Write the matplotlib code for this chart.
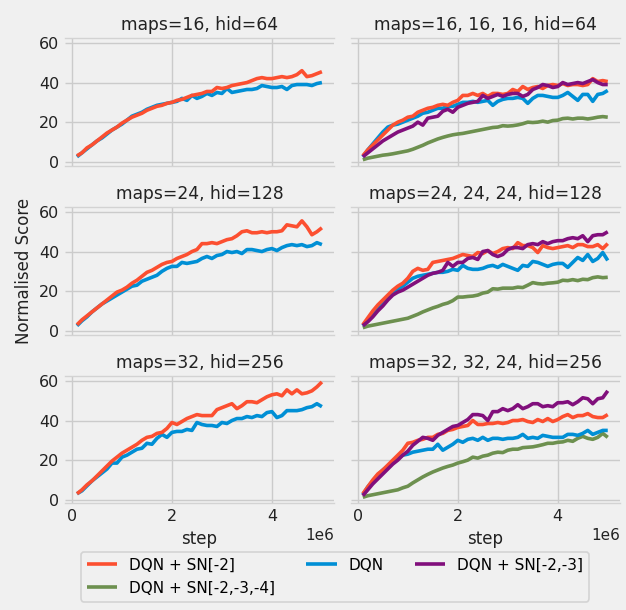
import numpy as np
import matplotlib
matplotlib.use("Agg")
import matplotlib.pyplot as plt

plt.style.use("fivethirtyeight")
plt.rcParams["font.family"] = ["DejaVu Sans"]

steps = np.arange(1, 51) * 100000  # sampled training steps 0.1e6 .. 5.0e6

titles = [
    "maps=16, hid=64", "maps=16, 16, 16, hid=64",
    "maps=24, hid=128", "maps=24, 24, 24, hid=128",
    "maps=32, hid=256", "maps=32, 32, 24, hid=256",
]
labels = ["DQN + SN[-2]", "DQN + SN[-2,-3,-4]", "DQN", "DQN + SN[-2,-3]"]
colors = {"DQN + SN[-2]": "#fc4f30", "DQN + SN[-2,-3,-4]": "#6d904f",
          "DQN": "#008fd5", "DQN + SN[-2,-3]": "#810f7c"}

# ---- left column (single conv block) ----
p1_sn2 = [3, 4.5, 7, 8.5, 10.5, 12.5, 14.5, 16, 17.5, 19.5, 21, 22.5, 23.5, 24.5, 26, 27, 28, 28.5, 29.5, 30,
          31, 31.5, 32.5, 33.5, 34, 34.5, 35.5, 35.5, 37.5, 37, 37.5, 38.5, 39, 39.5, 40, 41, 42, 42.5, 42, 42,
          42.5, 43, 42.5, 43, 44, 46, 43, 43.5, 44.5, 45.5]
p1_dqn = [2.5, 4.5, 6.5, 8.5, 10.5, 12, 14, 16, 17.5, 19, 21, 23, 24, 25, 26.5, 27.5, 28.5, 29, 29.5, 30,
          30.5, 32, 31, 33.5, 32, 33, 34.5, 33.5, 35, 34.5, 37, 35, 35.5, 36, 36.5, 36.5, 37, 38.5, 38, 37.5,
          37.5, 38, 36.5, 38.5, 39, 39, 39, 38.5, 39.5, 40]

p2_sn2 = [3, 5.5, 7.5, 9.5, 11.5, 13.5, 15.5, 17.5, 19.5, 20.5, 22, 24, 25.5, 27.5, 29.5, 30.5, 32, 33.5, 34.5, 35,
          36.5, 37.5, 38.5, 40, 41, 44, 44, 44.5, 44, 45, 46, 46.5, 48, 50, 50.5, 49.5, 49.5, 50, 49.5, 50,
          50, 50.5, 53.5, 53, 52.5, 55.5, 52.5, 48.5, 50, 52]
p2_dqn = [2.5, 5, 7, 9.5, 11.5, 13.5, 15, 16.5, 18, 19.5, 21, 22.5, 23, 25, 26, 27, 28, 30, 31.5, 32.5,
          32.5, 34.5, 34, 34.5, 35, 36.5, 37.5, 36.5, 38, 38.5, 40, 39.5, 40, 39, 41, 41, 40.5, 40, 41, 41.5,
          40.5, 42, 43, 43.5, 43, 43.5, 42.5, 43, 44.5, 43.5]

p3_sn2 = [3, 5, 7.5, 9.5, 12, 14.5, 17, 19.5, 21.5, 23.5, 25, 26.5, 28, 30, 31.5, 32, 33.5, 34, 36, 39,
          38, 39.5, 41, 42, 43, 42.5, 42.5, 42.5, 45.5, 46.5, 47.5, 48.5, 46, 47.5, 49.5, 49.5, 49, 50.5, 52, 53,
          53.5, 52.5, 55.5, 53.5, 55.5, 53.5, 54, 55, 57, 59.5]
p3_dqn = [3, 4.5, 7, 9.5, 11.5, 13.5, 15.5, 18.5, 18.5, 21.5, 22.5, 24, 25.5, 26, 28.5, 28, 31, 33, 31.5, 34,
          34.5, 34.5, 35.5, 35, 39, 38, 37.5, 37.5, 37, 39, 38.5, 40, 41, 41, 42, 41.5, 42.5, 42, 44, 44.5,
          41.5, 42.5, 45, 45, 45, 45.5, 46.5, 47, 48.5, 47]

# ---- right column (three conv blocks) ----
p4_sn2 = [3, 6, 8.5, 11, 13.5, 16, 18.5, 20, 21, 22.5, 23, 25, 26, 27, 27.5, 28.5, 29, 28.5, 30, 31,
          33.5, 33.5, 34.5, 33.5, 34.5, 33, 34.5, 34.5, 34, 34.5, 36.5, 35.5, 38, 36.5, 37.5, 38, 37, 38.5, 39, 38.5,
          39.5, 38.5, 39, 39, 38.5, 39, 42, 40.5, 41, 40.5]
p4_dqn = [2.5, 6, 9, 12, 15, 17.5, 18.5, 19, 20, 21, 22, 23, 24.5, 25, 26, 27, 27, 28, 28, 29,
          30, 30, 30.5, 30, 30.5, 31, 28.5, 30.5, 31.5, 32, 32, 32.5, 32, 29.5, 32, 33.5, 33.5, 33, 32.5, 32.5,
          33.5, 35, 33, 31, 34, 34, 30.5, 34, 34.5, 36]
p4_sn23 = [2.5, 4.5, 6.5, 8.5, 10.5, 12, 13.5, 15, 16, 17, 18, 20, 18.5, 22, 22.5, 23, 25.5, 26.5, 25, 27.5,
           28.5, 29.5, 30, 30.5, 33.5, 32, 33, 34, 33, 34, 34.5, 34.5, 33, 34, 36.5, 37.5, 39, 38.5, 37.5, 38,
           40, 39, 39.5, 40, 39.5, 40.5, 41.5, 40, 39, 39]
p4_sn234 = [1, 1.8, 2.3, 2.8, 3.3, 3.6, 4, 4.5, 5, 5.5, 6.3, 7.3, 8.3, 9.5, 10.5, 11.5, 12.3, 13, 13.6, 14,
            14.3, 14.8, 15.3, 15.8, 16.3, 16.8, 17.3, 17.5, 18.2, 18, 18.2, 18.6, 19.2, 20, 19.8, 20, 20.5, 20, 20.8, 21,
            21.8, 22, 21.6, 22, 22, 21.6, 22, 22.5, 22.8, 22.5]

p5_sn2 = [3, 6.5, 10, 13, 15.5, 18, 20.5, 22.5, 24, 26.5, 30, 31.5, 30.5, 31, 34.5, 35, 35.5, 36, 36.5, 37.5,
          38.5, 38, 37.5, 39.5, 39, 40.5, 39, 40, 41.5, 42, 41.5, 44.5, 43, 43, 42, 39.5, 43, 42, 41.5, 42,
          42.5, 43, 42, 43.5, 43.5, 42.5, 42.5, 43.5, 41.5, 44]
p5_dqn = [2.5, 5.5, 8.5, 11.5, 14, 17, 19.5, 21, 22.5, 24.5, 26.5, 27.5, 28, 28.5, 29, 29.5, 29.5, 30, 31, 30.5,
          33, 31.5, 31, 31, 31.5, 32.5, 33, 32, 33.5, 32.5, 31.5, 30.5, 33, 32.5, 35, 34.5, 33.5, 32.5, 33.5, 34,
          34, 32, 34.5, 37, 35.5, 38.5, 35, 36.5, 39.5, 35.5]
p5_sn23 = [2.5, 4.5, 7, 10, 12.5, 15.5, 18, 19.5, 20.5, 22, 23.5, 25, 26.5, 28, 29, 29.5, 30.5, 34.5, 32.5, 34.5,
           34.5, 36.5, 37, 36, 40, 40.5, 38.5, 37.5, 38.5, 41, 42, 42, 41.5, 43.5, 44, 43.5, 45, 44, 45, 45.5,
           45.5, 46.5, 47, 46.5, 48, 45, 48, 48.5, 48.5, 50]
p5_sn234 = [1.5, 2.3, 2.8, 3.3, 3.8, 4.3, 4.8, 5.3, 5.8, 6.3, 7.3, 8.3, 9.5, 10.5, 11.5, 12.3, 13.3, 14, 15.2, 17,
            17, 17.3, 17.5, 18, 19, 19.5, 21.2, 21, 21.5, 21.5, 21.5, 22, 21.8, 23, 24.3, 23.8, 23.6, 24, 24.2, 24.5,
            25.5, 25.3, 25.8, 25.3, 26, 25.8, 26.8, 27.2, 26.8, 27]

p6_sn2 = [3, 6.5, 10, 13, 15, 17.5, 20, 22.5, 25, 28.5, 29, 30, 30.5, 31.5, 31.5, 33, 33.5, 35, 35.5, 36.5,
          37, 37.5, 40, 38, 38, 38.5, 38.5, 39, 38.5, 39, 40, 40, 40.5, 39.5, 39, 40.5, 39.5, 41, 39.5, 40.5,
          42, 43, 41.5, 42.5, 42.5, 43.5, 42, 41.5, 41.5, 43]
p6_dqn = [2.5, 6.5, 9.5, 12.5, 15, 17, 19, 21, 22.5, 23, 24, 24.5, 25, 25.5, 25.5, 28, 25, 26.5, 28, 30,
          29, 30.5, 31, 30, 31.5, 30, 31, 31, 30.5, 31, 31, 31.5, 33, 31, 31.5, 31, 32.5, 32, 31.5, 31.5,
          31.5, 33, 33, 32.5, 33.5, 35, 33, 34, 35, 35]
p6_sn23 = [2, 5, 8, 10.5, 13, 15.5, 18, 20, 22.5, 24.5, 27.5, 29.5, 31.5, 31, 30, 32.5, 34, 35.5, 37, 37.5,
           39, 40.5, 43, 43, 42.5, 40, 44.5, 44.5, 46, 45, 46, 48, 46, 47, 48.5, 48.5, 47, 47.5, 47, 49,
           49, 49.5, 48, 49.5, 51.5, 51, 48.5, 51, 51.5, 55]
p6_sn234 = [1.2, 2, 2.5, 3, 3.5, 4, 4.5, 5, 6, 6.8, 8.5, 10, 11.5, 12.8, 14, 15, 16, 16.8, 17.5, 18.5,
            19.2, 20, 21.5, 21, 22, 22.5, 23.5, 24, 23.8, 25, 25.5, 25.5, 26.3, 26.5, 26.7, 27.2, 27.8, 28.5, 28.5, 29,
            29.2, 30, 29.5, 31, 32, 31, 30.5, 31.5, 33.5, 31.5]

panels = [
    {"DQN + SN[-2]": p1_sn2, "DQN": p1_dqn},
    {"DQN + SN[-2]": p4_sn2, "DQN": p4_dqn, "DQN + SN[-2,-3]": p4_sn23, "DQN + SN[-2,-3,-4]": p4_sn234},
    {"DQN + SN[-2]": p2_sn2, "DQN": p2_dqn},
    {"DQN + SN[-2]": p5_sn2, "DQN": p5_dqn, "DQN + SN[-2,-3]": p5_sn23, "DQN + SN[-2,-3,-4]": p5_sn234},
    {"DQN + SN[-2]": p3_sn2, "DQN": p3_dqn},
    {"DQN + SN[-2]": p6_sn2, "DQN": p6_dqn, "DQN + SN[-2,-3]": p6_sn23, "DQN + SN[-2,-3,-4]": p6_sn234},
]
draw_order = ["DQN + SN[-2,-3,-4]", "DQN", "DQN + SN[-2]", "DQN + SN[-2,-3]"]

fig, axes = plt.subplots(3, 2, figsize=(6.26, 6.10), dpi=100, sharex=True, sharey=True,
                         facecolor="#f0f0f0")
fig.subplots_adjust(left=0.1034, right=0.9904, top=0.9374, bottom=0.1746,
                    wspace=0.061, hspace=0.327)

handles = {}
for ax, title, data in zip(axes.flat, titles, panels):
    ax.set_facecolor("#f0f0f0")
    for name in draw_order:
        if name in data:
            ln, = ax.plot(steps, data[name], color=colors[name], lw=2.6, label=name,
                          solid_capstyle="butt")
            handles[name] = ln
    ax.set_title(title, fontsize=12.3, color="#222222", pad=6)
    ax.grid(True, color="#cbcbcb", lw=1)
    for s in ["left", "right"]:
        ax.spines[s].set_visible(False)
    for s in ["top", "bottom"]:
        ax.spines[s].set_color("#d3d3d3")
        ax.spines[s].set_linewidth(1)
    ax.tick_params(labelsize=11.5, length=0, pad=4, colors="#222222")
    ax.set_yticks([0, 20, 40, 60])
    ax.set_xticks([0, 2e6, 4e6])

for ax in axes[-1]:
    ax.set_xlabel("step", fontsize=12, color="#222222")
    ax.xaxis.get_offset_text().set_fontsize(11)
axes[1, 0].set_ylabel("Normalised Score", fontsize=12, color="#222222")

leg = fig.legend([handles[l] for l in labels], labels, ncol=3, loc="upper center",
                 bbox_to_anchor=(335 / 626, 1 - 544 / 610), fontsize=11,
                 frameon=True, fancybox=True, facecolor="#f0f0f0", edgecolor="#cccccc",
                 handlelength=2.0, columnspacing=2.0)
leg.get_frame().set_linewidth(1.2)
for h in leg.get_lines():
    h.set_linewidth(2.6)

fig.savefig("out.png", dpi=100, facecolor="#f0f0f0")
